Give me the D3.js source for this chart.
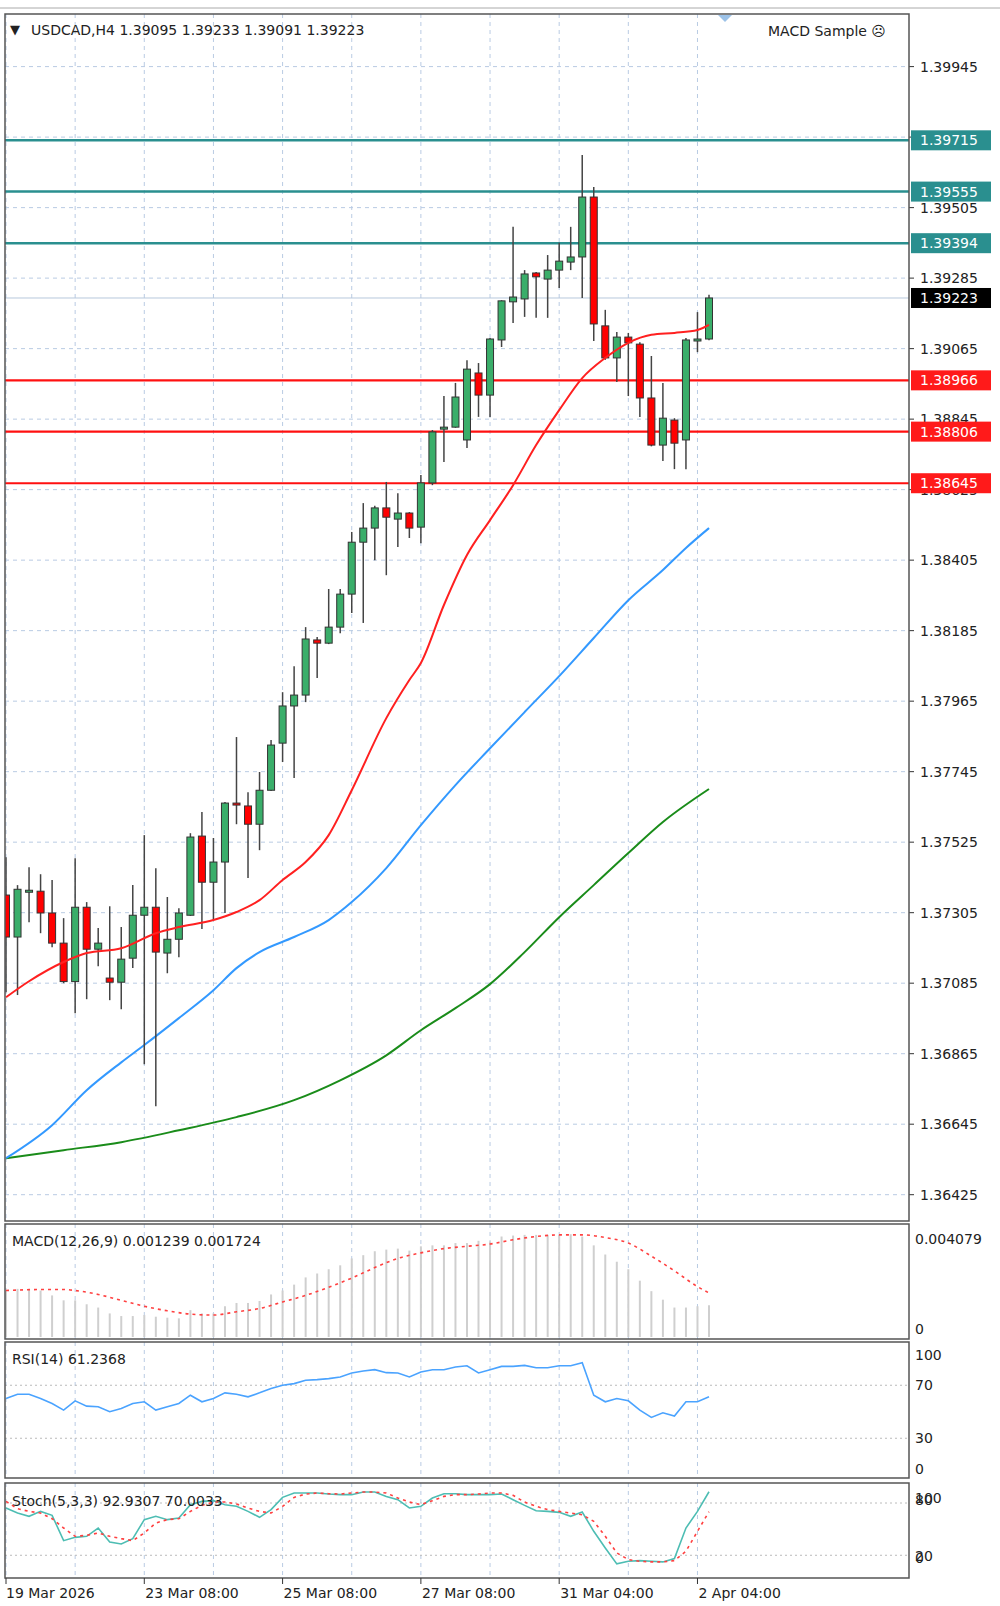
<!DOCTYPE html>
<html><head><meta charset="utf-8">
<script src="https://cdn.jsdelivr.net/npm/d3@7"></script>
<style>body{margin:0;background:#fff}svg{display:block}text{font-family:"DejaVu Sans",sans-serif}</style>
</head><body>
<svg id="c" width="1000" height="1606"></svg>
<script>
// ---- DATA ----
const opens  = [1.37360,1.37229,1.37372,1.37372,1.37304,1.37210,1.37090,1.37322,1.37191,1.37101,1.37088,1.37163,1.37297,1.37322,1.37179,1.37222,1.37297,1.37544,1.37400,1.37463,1.37647,1.37638,1.37581,1.37687,1.37834,1.37950,1.37984,1.38156,1.38146,1.38196,1.38299,1.38461,1.38505,1.38568,1.38533,1.38552,1.38508,1.38646,1.38814,1.38820,1.38780,1.38989,1.38920,1.39092,1.39211,1.39220,1.39301,1.39282,1.39310,1.39335,1.39351,1.39538,1.39136,1.39036,1.39101,1.39079,1.38911,1.38764,1.38842,1.38780,1.39092,1.39095];
const highs  = [1.37478,1.37391,1.37447,1.37425,1.37407,1.37288,1.37475,1.37338,1.37257,1.37325,1.37260,1.37391,1.37547,1.37444,1.37354,1.37319,1.37553,1.37619,1.37538,1.37650,1.37853,1.37681,1.37744,1.37844,1.37993,1.38074,1.38196,1.38165,1.38315,1.38315,1.38493,1.38583,1.38575,1.38649,1.38614,1.38555,1.38671,1.38811,1.38917,1.38958,1.39029,1.39020,1.39098,1.39216,1.39445,1.39310,1.39304,1.39357,1.39395,1.39445,1.39669,1.39569,1.39186,1.39117,1.39114,1.39085,1.39042,1.38958,1.38848,1.39098,1.39179,1.39233];
const lows   = [1.37057,1.37048,1.37275,1.37241,1.37197,1.37085,1.36991,1.37035,1.37138,1.37032,1.37004,1.37132,1.36832,1.36701,1.37116,1.37166,1.37295,1.37254,1.37282,1.37304,1.37581,1.37413,1.37500,1.37685,1.37775,1.37725,1.37962,1.38037,1.38143,1.38177,1.38240,1.38209,1.38405,1.38358,1.38446,1.38474,1.38458,1.38639,1.38711,1.38818,1.38755,1.38852,1.38852,1.39070,1.39145,1.39164,1.39161,1.39161,1.39254,1.39310,1.39223,1.39089,1.39030,1.38961,1.38917,1.38852,1.38760,1.38714,1.38689,1.38689,1.39054,1.39091];
const closes = [1.37229,1.37378,1.37375,1.37304,1.37210,1.37090,1.37322,1.37191,1.37210,1.37088,1.37160,1.37297,1.37322,1.37182,1.37222,1.37304,1.37541,1.37400,1.37463,1.37647,1.37641,1.37581,1.37687,1.37828,1.37950,1.37984,1.38159,1.38146,1.38196,1.38299,1.38461,1.38505,1.38568,1.38539,1.38552,1.38505,1.38646,1.38805,1.38820,1.38914,1.39001,1.38920,1.39095,1.39214,1.39226,1.39298,1.39289,1.39310,1.39338,1.39351,1.39538,1.39142,1.39036,1.39101,1.39083,1.38911,1.38764,1.38848,1.38770,1.39092,1.39095,1.39223];

const maRedIdx = [0,2,5,7,10,13,15,18,20,22,24,26,28,30,33,35,36,38,40,42,44,46,48,50,52,54,56,58,60,61];
const maRedVal = [1.37041,1.37091,1.37151,1.37179,1.37194,1.37241,1.37260,1.37282,1.37307,1.37344,1.37407,1.37463,1.37547,1.37687,1.37912,1.38031,1.38084,1.38265,1.38421,1.38530,1.38639,1.38764,1.38873,1.38973,1.39036,1.39083,1.39108,1.39114,1.39123,1.39139];
const maBlueIdx = [0,4,7,10,12,15,18,20,22,25,28,30,33,36,39,42,45,48,51,54,57,59,61];
const maBlueVal = [1.36539,1.36642,1.36751,1.36838,1.36892,1.36976,1.37063,1.37132,1.37182,1.37229,1.37282,1.37338,1.37444,1.37578,1.37703,1.37818,1.37931,1.38043,1.38162,1.38280,1.38374,1.38443,1.38505];
const maGreenIdx = [0,5,10,15,20,25,29,33,36,39,42,45,48,51,54,57,61];
const maGreenVal = [1.36539,1.36564,1.36589,1.36626,1.36667,1.36720,1.36782,1.36860,1.36938,1.37007,1.37082,1.37182,1.37291,1.37391,1.37491,1.37588,1.37691];

const resistLevels = [1.39715,1.39555,1.39394];
const supportLevels = [1.38966,1.38806,1.38645];
const lastPrice = 1.39223;
const priceTicks = ["1.39945","1.39725","1.39505","1.39285","1.39065","1.38845","1.38625","1.38405","1.38185","1.37965","1.37745","1.37525","1.37305","1.37085","1.36865","1.36645","1.36425"];

const macdHist = [1.818,1.882,1.882,1.818,1.626,1.434,1.434,1.280,1.152,0.922,0.819,0.819,0.858,0.794,0.755,0.730,1.050,0.922,0.922,1.203,1.331,1.331,1.408,1.664,1.818,2.048,2.330,2.483,2.650,2.803,3.072,3.200,3.354,3.418,3.456,3.379,3.546,3.584,3.584,3.674,3.674,3.763,3.738,3.930,3.968,3.994,3.994,3.994,3.994,4.019,3.930,3.584,3.226,2.944,2.650,2.202,1.792,1.459,1.152,1.152,1.203,1.239].map(v=>v/1000);
const macdSigIdx = [0,3,5,6,8,10,12,14,16,18,20,22,24,26,28,30,32,34,36,38,40,42,44,46,48,50,52,54,56,58,60,61];
const macdSigVal = [1.818,1.856,1.856,1.818,1.664,1.434,1.203,1.024,0.896,0.858,0.986,1.114,1.370,1.626,1.946,2.304,2.714,3.072,3.290,3.456,3.546,3.635,3.802,3.930,3.994,3.994,3.891,3.674,3.162,2.586,1.971,1.724].map(v=>v/1000);

const rsi = [60,63.25,63.25,60,56.25,51.25,58.25,54.25,53.75,50,52.5,56.25,57.5,51.25,53.75,56.25,62.5,57.5,60,64.25,63.25,61.25,64.25,67.5,70,71.25,73.75,74.25,75,76.25,79.25,80.75,81.75,79.5,79.25,76.25,80,81.75,81.75,83.75,84.75,79.25,81.75,84.25,84.25,85,83.25,83.25,84.75,84.75,87,62.5,57.5,60,58.25,51.25,45.75,49.25,46.75,57.5,57.5,61.24];
const stochK = [74.3,68.5,64.7,70.4,65.9,36.8,40.6,41.8,51.3,35.3,33,39.1,60.9,64.7,60.9,62.8,78.1,81.9,82.7,78.1,76.2,70.4,63.6,72.4,86.5,91.5,91.5,91.5,90.3,89.6,89.6,92.6,92.6,87.6,83.8,74.3,76.2,85.7,90.7,90.7,89.6,89.6,89.6,90.3,83.8,77.3,71.2,70.4,69.3,64.7,69.7,47.5,28.4,10.1,13.1,13.9,13.1,12.4,16.2,51.3,70.4,92.93];
const stochD = [81.9,73.5,70.4,68.5,62,51.3,41.8,42.9,45.6,41.8,39.1,36.8,45.6,57.1,60.9,62,70.4,77.3,81.1,81.1,78.9,74.3,70.4,68.5,76.2,86.5,90.3,91.5,90.7,90.3,91.5,92.6,92.6,91.5,85.7,81.1,78.1,82.7,87.6,89.6,89.6,90.3,91.5,91.5,88.8,81.1,76.2,72.4,70.4,68.5,66.6,59,41.8,22.7,15,13.1,12.4,12.4,13.9,24.6,47.5,70.0];

const dateLabels = [[0,"19 Mar 2026"],[12,"23 Mar 08:00"],[24,"25 Mar 08:00"],[36,"27 Mar 08:00"],[48,"31 Mar 04:00"],[60,"2 Apr 04:00"]];

// ---- DRAW ----
const svg = d3.select("#c");
const L=5, R=909;
const P = {main:[14,1221], macd:[1224,1339], rsi:[1342,1478], st:[1483,1578]};
const x = d3.scaleLinear().domain([0,61]).range([6,709]);
const y = d3.scaleLinear().domain([1.36425,1.39945]).range([1194.7,66.6]);
const yM = d3.scaleLinear().domain([0,0.00438]).range([1337,1225]);
const yR = d3.scaleLinear().domain([0,100]).range([1478,1345.5]);
const yS = d3.scaleLinear().domain([0,100]).range([1572.7,1485.6]);
const gridC="#b9cbe3";

svg.append("line").attr("x1",0).attr("x2",1000).attr("y1",8).attr("y2",8).attr("stroke","#aaa");

// clip paths
Object.entries(P).forEach(([k,[t,b]])=>{
  svg.append("clipPath").attr("id","cp"+k).append("rect").attr("x",L).attr("y",t).attr("width",R-L).attr("height",b-t);
});
const G = {};
Object.entries(P).forEach(([k,[t,b]])=>{
  G[k]=svg.append("g").attr("clip-path",`url(#cp${k})`);
  // vertical grid
  for(let i=0;i<=61;i+=6){
    G[k].append("line").attr("x1",x(i)).attr("x2",x(i)).attr("y1",t).attr("y2",b)
      .attr("stroke",gridC).attr("stroke-dasharray","4,4");
  }
});
// horizontal grid main + tick labels
priceTicks.forEach(s=>{
  const v=+s;
  G.main.append("line").attr("x1",L).attr("x2",R).attr("y1",y(v)).attr("y2",y(v)).attr("stroke",gridC).attr("stroke-dasharray","4,4");
  svg.append("line").attr("x1",R).attr("x2",R+5).attr("y1",y(v)).attr("y2",y(v)).attr("stroke","#333");
  svg.append("text").attr("x",920).attr("y",y(v)+5).attr("font-size",14).attr("fill","#222").text(s);
});
// RSI / stoch grid
[70,30].forEach(v=>G.rsi.append("line").attr("x1",L).attr("x2",R).attr("y1",yR(v)).attr("y2",yR(v)).attr("stroke","#bbb").attr("stroke-dasharray","2,3"));
[80,20].forEach(v=>G.st.append("line").attr("x1",L).attr("x2",R).attr("y1",yS(v)).attr("y2",yS(v)).attr("stroke","#bbb").attr("stroke-dasharray","2,3"));

// last price thin line
G.main.append("line").attr("x1",L).attr("x2",R).attr("y1",y(lastPrice)).attr("y2",y(lastPrice)).attr("stroke","#b8c8dc");
// levels
resistLevels.forEach(v=>G.main.append("line").attr("x1",L).attr("x2",R).attr("y1",y(v)).attr("y2",y(v)).attr("stroke","#2a8f8f").attr("stroke-width",2.5));
supportLevels.forEach(v=>G.main.append("line").attr("x1",L).attr("x2",R).attr("y1",y(v)).attr("y2",y(v)).attr("stroke","#ff1010").attr("stroke-width",2.2));

// MAs
const mline=(idx,val,col)=>G.main.append("path").datum(idx.map((d,i)=>[d,val[i]]))
  .attr("d",d3.line().x(d=>x(d[0])).y(d=>y(d[1])).curve(d3.curveMonotoneX))
  .attr("fill","none").attr("stroke",col).attr("stroke-width",2);
mline(maGreenIdx,maGreenVal,"#1a8c1a");
mline(maBlueIdx,maBlueVal,"#3399ff");

// candles
const bw=7;
opens.forEach((o,i)=>{
  const c=closes[i], up=c>=o;
  G.main.append("line").attr("x1",x(i)).attr("x2",x(i)).attr("y1",y(highs[i])).attr("y2",y(lows[i])).attr("stroke","#444").attr("stroke-width",1.5);
  const top=y(Math.max(o,c)), bot=y(Math.min(o,c));
  G.main.append("rect").attr("x",x(i)-bw/2).attr("y",top).attr("width",bw).attr("height",Math.max(bot-top,2))
    .attr("fill",up?"#3aae6a":"#ff0000").attr("stroke","#333").attr("stroke-width",1);
});
mline(maRedIdx,maRedVal,"#ff2020");

// level boxes
const box=(v,fill,txtCol)=>{
  svg.append("rect").attr("x",911).attr("y",y(v)-10).attr("width",80).attr("height",20).attr("fill",fill);
  svg.append("text").attr("x",920).attr("y",y(v)+5).attr("font-size",14).attr("fill",txtCol).text(v.toFixed(5));
};
resistLevels.forEach(v=>box(v,"#2a8f8f","#fff"));
supportLevels.forEach(v=>box(v,"#ff1a1a","#fff"));
box(lastPrice,"#000","#fff");

// MACD
macdHist.forEach((v,i)=>G.macd.append("line").attr("x1",x(i)).attr("x2",x(i)).attr("y1",yM(0)).attr("y2",yM(v)).attr("stroke","#cfcfcf").attr("stroke-width",2));
G.macd.append("path").datum(macdSigIdx.map((d,i)=>[d,macdSigVal[i]]))
  .attr("d",d3.line().x(d=>x(d[0])).y(d=>yM(d[1])).curve(d3.curveMonotoneX))
  .attr("fill","none").attr("stroke","#ff4040").attr("stroke-width",1.6).attr("stroke-dasharray","3,4");
// RSI
G.rsi.append("path").datum(rsi).attr("d",d3.line().x((d,i)=>x(i)).y(d=>yR(d)))
  .attr("fill","none").attr("stroke","#4aa3ff").attr("stroke-width",1.6);
// Stoch
G.st.append("path").datum(stochK).attr("d",d3.line().x((d,i)=>x(i)).y(d=>yS(d)))
  .attr("fill","none").attr("stroke","#4dbdb3").attr("stroke-width",1.6);
G.st.append("path").datum(stochD).attr("d",d3.line().x((d,i)=>x(i)).y(d=>yS(d)))
  .attr("fill","none").attr("stroke","#ff4040").attr("stroke-width",1.6).attr("stroke-dasharray","3,4");

// frames
Object.values(P).forEach(([t,b])=>svg.append("rect").attr("x",L).attr("y",t).attr("width",R-L).attr("height",b-t).attr("fill","none").attr("stroke","#555").attr("stroke-width",1.5));

// sub axis labels
const lab=(s,yy)=>svg.append("text").attr("x",915).attr("y",yy).attr("font-size",14).attr("fill","#222").text(s);
lab("0.004079",1244); lab("0",1334);
lab("100",1360); lab("70",yR(70)+5); lab("30",yR(30)+5); lab("0",1474);
lab("100",1503); lab("80",1505); lab("20",1561); lab("0",1563);

// titles
svg.append("text").attr("x",10).attr("y",34).attr("font-size",13).attr("fill","#222").text("▼");
svg.append("text").attr("x",31).attr("y",35).attr("font-size",14).attr("fill","#222").text("USDCAD,H4  1.39095 1.39233 1.39091 1.39223");
svg.append("text").attr("x",768).attr("y",36).attr("font-size",14).attr("fill","#222").text("MACD Sample ☹");
svg.append("path").attr("d","M718,15 L732,15 L725,22 Z").attr("fill","#9cc2e8");
svg.append("text").attr("x",12).attr("y",1246).attr("font-size",14).attr("fill","#222").text("MACD(12,26,9) 0.001239 0.001724");
svg.append("text").attr("x",12).attr("y",1364).attr("font-size",14).attr("fill","#222").text("RSI(14) 61.2368");
svg.append("text").attr("x",12).attr("y",1506).attr("font-size",14).attr("fill","#222").text("Stoch(5,3,3) 92.9307 70.0033");

// date axis
dateLabels.forEach(([i,s])=>{
  svg.append("line").attr("x1",x(i)).attr("x2",x(i)).attr("y1",1578).attr("y2",1584).attr("stroke","#333");
  svg.append("text").attr("x",x(i)+(i===0?0:1)).attr("y",1598).attr("font-size",14).attr("fill","#222").text(s);
});
</script>
</body></html>
